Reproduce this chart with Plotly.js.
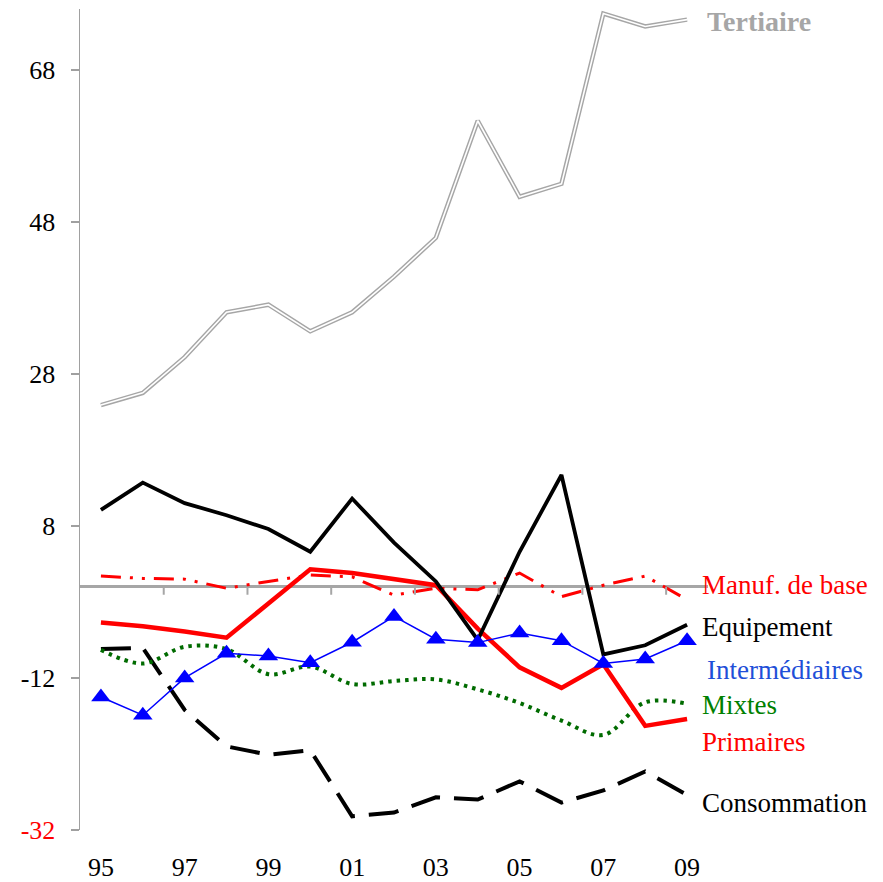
<!DOCTYPE html>
<html>
<head>
<meta charset="utf-8">
<script src="https://cdn.plot.ly/plotly-3.0.1.min.js"></script>
<style>html,body{margin:0;padding:0;background:#fff;}</style>
</head>
<body>
<div id="chart" style="width:883px;height:882px;"></div>
<script>
// ---- DATA ----
var years = [1995,1996,1997,1998,1999,2000,2001,2002,2003,2004,2005,2006,2007,2008,2009];
var xTickVals = [1995,1997,1999,2001,2003,2005,2007,2009];
var xTickText = ['95','97','99','01','03','05','07','09'];
var yTickVals = [-32,-12,8,28,48,68];
var yTickText = ['-32','-12','8','28','48','68'];

var tertiaire      = [23.9,25.5,30.2,36.1,37.1,33.6,36.1,40.8,45.9,61.3,51.3,53.0,75.4,73.7,74.6];
var manufDeBase    = [1.4,1.1,1.0,-0.2,0.7,1.55,1.3,-1.1,-0.2,-0.4,1.8,-1.3,0.2,1.4,-1.7];
var equipement     = [10.1,13.7,11.0,9.4,7.6,4.6,11.6,5.8,0.7,-7.0,4.6,14.7,-8.9,-7.7,-5.0];
var intermediaires = [-14.5,-16.9,-12.0,-8.75,-9.1,-10.0,-7.3,-3.9,-6.9,-7.35,-6.1,-7.1,-10.1,-9.5,-7.1];
var mixtes         = [-8.3,-10.1,-7.9,-8.2,-11.5,-10.5,-12.8,-12.4,-12.2,-13.5,-15.3,-17.6,-19.5,-15.2,-15.4];
var primaires      = [-4.7,-5.2,-5.9,-6.7,-2.2,2.3,1.8,1.0,0.2,-5.5,-10.6,-13.3,-10.2,-18.3,-17.4];
var consommation   = [-8.2,-8.05,-16.2,-21.0,-22.1,-21.5,-30.2,-29.7,-27.7,-28.0,-25.6,-28.4,-26.8,-24.3,-27.4];

var labelTexts = ['Tertiaire','Manuf. de base','Equipement','Intermédiaires','Mixtes','Primaires','Consommation'];

// ---- CHART ----
var FONT = 'Liberation Serif, Times New Roman, serif';

var traces = [
  {x: years, y: tertiaire, mode:'lines', line:{color:'#a6a6a6', width:4.5}, cliponaxis:false},
  {x: years, y: tertiaire, mode:'lines', line:{color:'#ffffff', width:1.6}, cliponaxis:false},
  {x: years, y: consommation, mode:'lines', line:{color:'#000000', width:4, dash:'30px,14px'}},
  {x: years, y: mixtes, mode:'lines', line:{color:'#006b00', width:4, dash:'3.5px,5px', shape:'spline', smoothing:1}},
  {x: years, y: primaires, mode:'lines', line:{color:'#ff0000', width:4.5}},
  {x: years, y: manufDeBase, mode:'lines', line:{color:'#ff0000', width:3, dash:'20px,9px,3px,9px,3px,9px'}},
  {x: years, y: equipement, mode:'lines', line:{color:'#000000', width:3.8}},
  {x: years, y: intermediaires, mode:'lines+markers', line:{color:'#0000ff', width:1.5},
   marker:{symbol:'triangle-up', size:17, color:'#0000ff'}}
];

// tick marks on the zero line, between category pairs
var shapes = [];
for (var i = 1; i < years.length - 1; i += 2) {
  var t = (years[i] + years[i+1]) / 2;
  shapes.push({type:'line', xref:'x', yref:'y', ysizemode:'pixel', yanchor:0,
    x0:t, x1:t, y0:0, y1:-8, line:{color:'#a6a6a6', width:2}});
}

var labelY = [tertiaire[14]-0.2, 0.24, -5.3, -10.9, -15.5, -20.4, -28.4];
var labelColors = ['#a6a6a6','#ff0000','#000000','#1f4fd8','#008000','#ff0000','#000000'];
var labelX = [2009.42, 2009.3, 2009.3, 2009.42, 2009.3, 2009.3, 2009.3];
var annotations = labelTexts.map(function(txt, k){
  return {
    text: k === 0 ? '<b>' + txt + '</b>' : txt,
    xref:'x', yref:'y', x: labelX[k], y: labelY[k],
    xanchor:'left', yanchor:'middle', showarrow:false,
    font:{family:FONT, size: k === 0 ? 28 : 27, color: labelColors[k]}
  };
});

var yText = yTickText.map(function(s, k){ return k === 0 ? '<span style="color:#ff0000">' + s + '</span>' : s; });

var layout = {
  width: 883, height: 882,
  margin: {l:80, r:175, t:9, b:52, pad:0},
  paper_bgcolor:'#ffffff', plot_bgcolor:'#ffffff',
  showlegend:false,
  font:{family:FONT, size:26, color:'#000000'},
  xaxis:{
    range:[1994.5, 2009.5], showgrid:false, zeroline:false, showline:false,
    tickmode:'array', tickvals:xTickVals, ticktext:xTickText,
    ticks:'', ticklabelstandoff:19,
    tickfont:{family:FONT, size:26, color:'#000000'}
  },
  yaxis:{
    range:[-32, 76], showgrid:false,
    zeroline:true, zerolinecolor:'#a6a6a6', zerolinewidth:2.5,
    showline:true, linecolor:'#a0a0a0', linewidth:1.5,
    ticks:'outside', ticklen:8, tickcolor:'#a0a0a0', tickwidth:1.5,
    tickmode:'array', tickvals:yTickVals, ticktext:yText,
    ticklabelstandoff:10,
    tickfont:{family:FONT, size:26, color:'#000000'}
  },
  shapes: shapes,
  annotations: annotations
};

Plotly.newPlot('chart', traces, layout, {displayModeBar:false, staticPlot:true});
</script>
</body>
</html>
